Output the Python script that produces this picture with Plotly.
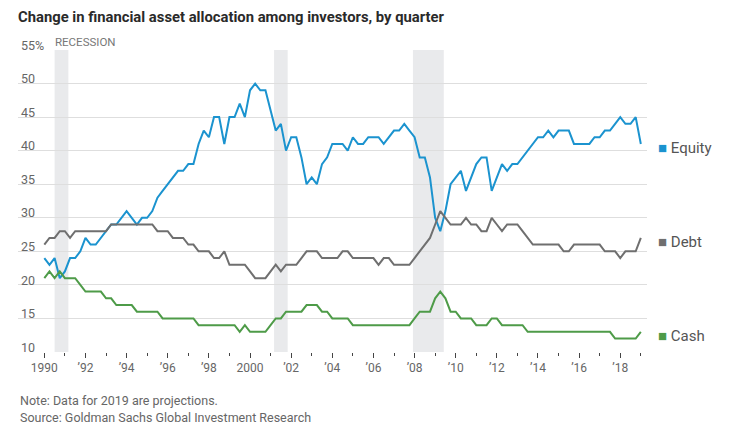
import plotly.graph_objects as go

# ---------------- data (quarterly, 1990 Q1 - 2019 Q1) ----------------
start_year = 1990
equity = [24, 23, 24, 21, 22, 24, 24, 25, 27, 26,
          26, 27, 28, 29, 29, 30, 31, 30, 29, 30,
          30, 31, 33, 34, 35, 36, 37, 37, 38, 38,
          41, 43, 42, 45, 45, 41, 45, 45, 47, 45,
          49, 50, 49, 49, 46, 43, 44, 40, 42, 42,
          39, 35, 36, 35, 38, 39, 41, 41, 41, 40,
          42, 41, 41, 42, 42, 42, 41, 42, 43, 43,
          44, 43, 42, 39, 39, 36, 30, 28, 31, 35,
          36, 37, 34, 36, 38, 39, 39, 34, 36, 38,
          37, 38, 38, 39, 40, 41, 42, 42, 43, 42,
          43, 43, 43, 41, 41, 41, 41, 42, 42, 43,
          43, 44, 45, 44, 44, 45, 41]
debt = [26, 27, 27, 28, 28, 27, 28, 28, 28, 28,
        28, 28, 28, 29, 29, 29, 29, 29, 29, 29,
        29, 29, 28, 28, 28, 27, 27, 27, 26, 26,
        25, 25, 25, 24, 24, 25, 23, 23, 23, 23,
        22, 21, 21, 21, 22, 23, 22, 23, 23, 23,
        24, 25, 25, 25, 24, 24, 24, 24, 25, 25,
        24, 24, 24, 24, 24, 23, 24, 24, 23, 23,
        23, 23, 24, 25, 26, 27, 29, 31, 30, 29,
        29, 29, 30, 29, 29, 28, 28, 30, 29, 28,
        29, 29, 29, 28, 27, 26, 26, 26, 26, 26,
        26, 25, 25, 26, 26, 26, 26, 26, 26, 25,
        25, 25, 24, 25, 25, 25, 27]
cash = [21, 22, 21, 22, 21, 21, 21, 20, 19, 19,
        19, 19, 18, 18, 17, 17, 17, 17, 16, 16,
        16, 16, 16, 15, 15, 15, 15, 15, 15, 15,
        14, 14, 14, 14, 14, 14, 14, 14, 13, 14,
        13, 13, 13, 13, 14, 15, 15, 16, 16, 16,
        16, 17, 17, 17, 16, 16, 15, 15, 15, 15,
        14, 14, 14, 14, 14, 14, 14, 14, 14, 14,
        14, 14, 15, 16, 16, 16, 18, 19, 18, 16,
        16, 15, 15, 15, 14, 14, 14, 15, 15, 14,
        14, 14, 14, 14, 13, 13, 13, 13, 13, 13,
        13, 13, 13, 13, 13, 13, 13, 13, 13, 13,
        13, 12, 12, 12, 12, 12, 13]

series_names = ["Equity", "Debt", "Cash"]
recession_start = [1990.5, 2001.17, 2007.92]
recession_end = [1991.17, 2001.83, 2009.42]

major_years = list(range(1990, 2019, 2))
major_labels = ["1990" if y == 1990 else ("2000" if y == 2000 else "\u2019" + str(y)[2:]) for y in major_years]
minor_years = list(range(1991, 2020, 2))
y_ticks = [10, 15, 20, 25, 30, 35, 40, 45, 50, 55]
y_labels = [str(v) if v != 55 else "55%" for v in y_ticks]

# ---------------- styling ----------------
colors = {"Equity": "#1b93cf", "Debt": "#6f6f6f", "Cash": "#4e9b48"}
FONT = "Roboto"

quarters = [start_year + i / 4 for i in range(len(equity))]
values = {"Equity": equity, "Debt": debt, "Cash": cash}

fig = go.Figure()
for name in series_names:
    fig.add_trace(go.Scatter(
        x=quarters, y=values[name], mode="lines", name=name,
        line=dict(color=colors[name], width=2), showlegend=False,
        hoverinfo="x+y",
    ))

shapes = []
for s, e in zip(recession_start, recession_end):
    shapes.append(dict(type="rect", xref="x", yref="paper", x0=s, x1=e, y0=0, y1=1,
                       fillcolor="#e9eaec", line=dict(width=0), layer="below"))

annotations = []
annotations.append(dict(text="RECESSION", x=recession_start[0], y=1, xref="x", yref="paper",
                        xanchor="left", yanchor="bottom", showarrow=False, xshift=-2, yshift=-1,
                        font=dict(family=FONT, size=11.5, color="#777777")))
for name in series_names:
    annotations.append(dict(
        text=f"<span style='color:{colors[name]}'>\u25A0</span> {name}",
        x=quarters[-1], y=values[name][-1], xref="x", yref="y",
        xanchor="left", yanchor="middle", showarrow=False, xshift=15, yshift=-4,
        font=dict(family=FONT, size=15, color="#555555")))
annotations.append(dict(text="Note: Data for 2019 are projections.", x=0, y=-0.159,
                        xref="paper", yref="paper", xanchor="left", yanchor="middle",
                        showarrow=False, font=dict(family=FONT, size=12.5, color="#666666")))
annotations.append(dict(text="Source: Goldman Sachs Global Investment Research", x=0, y=-0.2175,
                        xref="paper", yref="paper", xanchor="left", yanchor="middle",
                        showarrow=False, font=dict(family=FONT, size=12.5, color="#666666")))

fig.update_layout(
    width=746, height=427,
    margin=dict(l=18, r=99, t=50, b=75, autoexpand=False),
    paper_bgcolor="white", plot_bgcolor="white",
    title=dict(text="<b>Change in financial asset allocation among investors, by quarter</b>",
               x=0, xref="paper", xanchor="left", y=1 - 17 / 427, yref="container", yanchor="middle",
               font=dict(family=FONT, size=14.8, color="#2a2a2a")),
    shapes=shapes, annotations=annotations,
    xaxis=dict(range=[1988.72, 2019.30], tickmode="array", tickvals=major_years, ticktext=major_labels,
               ticks="outside", ticklen=5, tickcolor="#444444", tickwidth=1, automargin=False,
               showgrid=False, zeroline=False, showline=False,
               tickfont=dict(family=FONT, size=12, color="#666666"),
               minor=dict(tickmode="array", tickvals=minor_years, ticks="outside", ticklen=3,
                          tickcolor="#444444", tickwidth=1, showgrid=False)),
    yaxis=dict(range=[10, 55], tickmode="array", tickvals=y_ticks, ticktext=y_labels,
               ticklabelposition="inside top", ticklabeloverflow="allow", automargin=False,
               ticklabelshift=4,
               showgrid=True, gridcolor="#dedede", gridwidth=1, zeroline=False, showline=False,
               ticks="", tickfont=dict(family=FONT, size=12.5, color="#666666")),
    font=dict(family=FONT),
)

fig.write_html("out.html", config={"displayModeBar": False},
               post_script="document.body.style.margin='0';")
